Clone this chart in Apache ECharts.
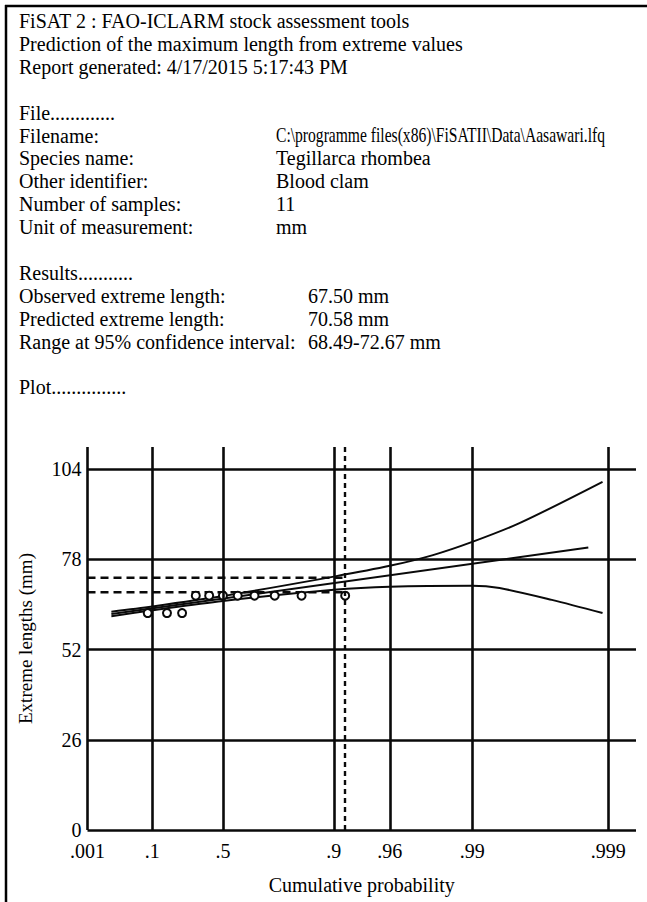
<!DOCTYPE html>
<html>
<head>
<meta charset="utf-8">
<script src="https://cdn.jsdelivr.net/npm/echarts@6/dist/echarts.min.js"></script>
<style>
html,body{margin:0;padding:0;background:#fff;}
#chart{width:647px;height:902px;}
</style>
</head>
<body>
<div id="chart"></div>
<script>
// ---------- report text ----------
const headerLines = [
  "FiSAT 2 : FAO-ICLARM stock assessment tools",
  "Prediction of the maximum length from extreme values",
  "Report generated: 4/17/2015 5:17:43 PM"
];
const fileLabels = ["File.............", "Filename:", "Species name:", "Other identifier:", "Number of samples:", "Unit of measurement:"];
const fileValues = ["", "C:\\programme files(x86)\\FiSATII\\Data\\Aasawari.lfq", "Tegillarca rhombea", "Blood clam", "11", "mm"];
const resultLabels = ["Results...........", "Observed extreme length:", "Predicted extreme length:", "Range at 95% confidence interval:"];
const resultValues = ["", "67.50 mm", "70.58 mm", "68.49-72.67 mm"];
const plotLabel = "Plot...............";

// ---------- axes ----------
const probTicks = [0.001, 0.1, 0.5, 0.9, 0.96, 0.99, 0.999];
const probTickLabels = [".001", ".1", ".5", ".9", ".96", ".99", ".999"];
const lengthTicks = [0, 26, 52, 78, 104];
const xAxisTitle = "Cumulative probability";
const yAxisTitle = "Extreme lengths (mm)";

// ---------- data (cumulative probability, length in mm) ----------
const obsProb = [0.0833, 0.1667, 0.25, 0.3333, 0.4167, 0.5, 0.5833, 0.6667, 0.75, 0.8333, 0.9167];
const obsLength = [62.5, 62.5, 62.5, 67.5, 67.5, 67.5, 67.5, 67.5, 67.5, 67.5, 67.5];
const fitProb = [0.01, 0.9986];
const fitLength = [62.2, 81.4];
const upperProb = [0.01, 0.1, 0.5, 0.9, 0.96, 0.9806, 0.99, 0.9955, 0.9989];
const upperLength = [62.9, 64.4, 67.4, 73.0, 76.1, 79.2, 83.0, 88.4, 100.3];
const lowerProb = [0.01, 0.1, 0.5, 0.9, 0.96, 0.99, 0.9937, 0.9974, 0.9989];
const lowerLength = [61.6, 63.3, 66.0, 69.2, 70.1, 70.4, 69.7, 66.3, 62.5];
const predProb = 0.9167;
const ciLow = 68.49;
const ciHigh = 72.67;

// ---------- Gumbel (extreme value) probability scale ----------
const gumbel = p => -Math.log(-Math.log(p));
const X_MIN = gumbel(0.001);
const X_MAX = 7.38;
const Y_MAX = 110.34;

const FONT = '"Liberation Serif", "Times New Roman", serif';
const INK = '#0a0a0a';

function pairs(ps, ls) { return ps.map((p, i) => [gumbel(p), ls[i]]); }

// ---------- text block ----------
const ROW0 = 21, ROWH = 22.9;
const rowY = i => ROW0 + i * ROWH;
const graphics = [];
function addText(txt, x, y, sx) {
  graphics.push({
    type: 'text', x: x, y: y, silent: true, scaleX: sx || 1,
    style: { text: txt, fontSize: 20, fontFamily: FONT, fill: '#000',
             verticalAlign: 'middle', textVerticalAlign: 'middle', align: 'left' }
  });
}
headerLines.forEach((t, i) => addText(t, 19, rowY(i)));
fileLabels.forEach((t, i) => addText(t, 19, rowY(4 + i)));
fileValues.forEach((t, i) => { if (t) addText(t, 276, rowY(4 + i), i === 1 ? 0.78 : 1); });
resultLabels.forEach((t, i) => addText(t, 19, rowY(11 + i)));
resultValues.forEach((t, i) => { if (t) addText(t, 308, rowY(11 + i)); });
addText(plotLabel, 19, rowY(16));
// page frame (left and top rules)
graphics.push({ type: 'line', silent: true, shape: { x1: 6, y1: 5, x2: 6, y2: 902 }, style: { stroke: '#000', lineWidth: 2.5 } });
graphics.push({ type: 'line', silent: true, shape: { x1: 5, y1: 6, x2: 647, y2: 6 }, style: { stroke: '#000', lineWidth: 2.5 } });

// ---------- grid lines as mark lines ----------
const gridMarks = probTicks.map(p => ({ xAxis: gumbel(p) }))
  .concat(lengthTicks.map(v => ({ yAxis: v })));

const chart = echarts.init(document.getElementById('chart'), null, { renderer: 'svg' });
chart.setOption({
  animation: false,
  backgroundColor: '#fff',
  graphic: graphics,
  grid: { left: 87.5, right: 11, top: 447, bottom: 72, containLabel: false, outerBoundsMode: 'none' },
  xAxis: {
    type: 'value', min: X_MIN, max: X_MAX,
    axisLine: { show: false }, axisTick: { show: false }, splitLine: { show: false },
    axisLabel: {
      customValues: probTicks.map(gumbel),
      formatter: v => {
        const i = probTicks.findIndex(p => Math.abs(gumbel(p) - v) < 1e-6);
        return i >= 0 ? probTickLabels[i] : '';
      },
      margin: 11, fontSize: 20, fontFamily: FONT, color: '#000'
    },
    name: xAxisTitle, nameLocation: 'middle', nameGap: 45, nameMoveOverlap: false,
    nameTextStyle: { fontSize: 20, fontFamily: FONT, color: '#000' }
  },
  yAxis: {
    type: 'value', min: 0, max: Y_MAX,
    axisLine: { show: false }, axisTick: { show: false }, splitLine: { show: false },
    axisLabel: { customValues: lengthTicks, margin: 6, fontSize: 20, fontFamily: FONT, color: '#000' },
    name: yAxisTitle, nameLocation: 'middle', nameGap: 53, nameRotate: 90, nameMoveOverlap: false,
    nameTextStyle: { fontSize: 19, fontFamily: FONT, color: '#000' }
  },
  series: [
    {
      type: 'line', z: 1, data: [], silent: true,
      markLine: {
        silent: true, symbol: ['none', 'none'], label: { show: false },
        lineStyle: { color: INK, width: 2.6, type: 'solid' },
        data: gridMarks
      }
    },
    {
      type: 'line', z: 2, data: [], silent: true,
      markLine: {
        silent: true, symbol: ['none', 'none'], label: { show: false },
        lineStyle: { color: INK, width: 2.4, type: [5, 4] },
        data: [{ xAxis: gumbel(predProb) }]
      }
    },
    {
      type: 'line', z: 2, silent: true, showSymbol: false,
      lineStyle: { color: INK, width: 2.4, type: [8, 5] },
      data: [[X_MIN, ciHigh], [gumbel(predProb), ciHigh]]
    },
    {
      type: 'line', z: 2, silent: true, showSymbol: false,
      lineStyle: { color: INK, width: 2.4, type: [8, 5] },
      data: [[X_MIN, ciLow], [gumbel(predProb), ciLow]]
    },
    {
      type: 'line', z: 3, silent: true, showSymbol: false,
      lineStyle: { color: INK, width: 2 },
      data: pairs(fitProb, fitLength)
    },
    {
      type: 'line', z: 3, silent: true, showSymbol: false, smooth: 0.3,
      lineStyle: { color: INK, width: 2 },
      data: pairs(upperProb, upperLength)
    },
    {
      type: 'line', z: 3, silent: true, showSymbol: false, smooth: 0.3,
      lineStyle: { color: INK, width: 2 },
      data: pairs(lowerProb, lowerLength)
    },
    {
      type: 'scatter', z: 4, silent: true,
      symbol: 'emptyCircle', symbolSize: 8,
      itemStyle: { color: INK, borderColor: INK, borderWidth: 2, opacity: 1 },
      data: pairs(obsProb, obsLength)
    }
  ]
});
</script>
</body>
</html>
